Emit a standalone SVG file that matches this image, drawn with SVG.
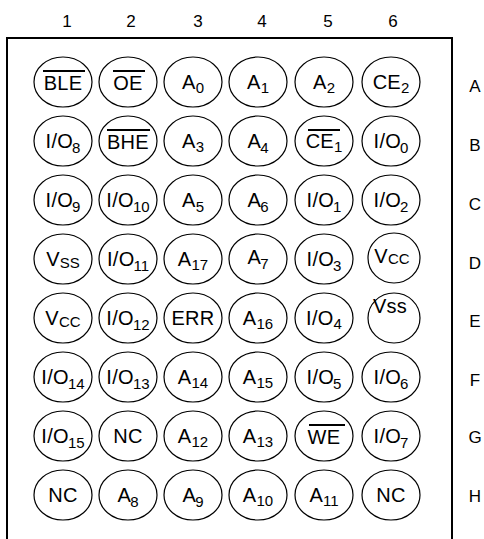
<svg xmlns="http://www.w3.org/2000/svg" width="484" height="539" viewBox="0 0 484 539">
<style>
.pin{fill:#fff;stroke:#000;stroke-width:1.2}
.t{font-family:"Liberation Sans",Arial,sans-serif;font-size:20px;text-anchor:middle;fill:#000;letter-spacing:0.3px}
.s{font-size:15px;letter-spacing:0}
.lbl{font-family:"Liberation Sans",Arial,sans-serif;font-size:17px;text-anchor:middle;fill:#000}
.ov{stroke:#000;stroke-width:2}
</style>
<rect x="0" y="0" width="484" height="539" fill="#fff"/>
<g id="labels">
<text class="lbl" x="67" y="27">1</text>
<text class="lbl" x="131" y="27">2</text>
<text class="lbl" x="198" y="27">3</text>
<text class="lbl" x="262" y="27">4</text>
<text class="lbl" x="328" y="27">5</text>
<text class="lbl" x="393" y="27">6</text>
<text class="lbl" x="475" y="92">A</text>
<text class="lbl" x="475" y="151">B</text>
<text class="lbl" x="475" y="210">C</text>
<text class="lbl" x="475" y="269">D</text>
<text class="lbl" x="475" y="327">E</text>
<text class="lbl" x="475" y="386">F</text>
<text class="lbl" x="475" y="443">G</text>
<text class="lbl" x="475" y="502">H</text>
</g>
<rect id="package" x="7" y="38" width="445" height="510" fill="none" stroke="#000" stroke-width="2"/>
<g id="connectors"></g>
<!-- Row A cy=82 -->
<g id="A1"><ellipse class="pin" cx="63" cy="82" rx="29" ry="25"/><text class="t" x="63" y="90">BLE</text><line class="ov" x1="43" y1="71" x2="85" y2="71"/></g>
<g id="A2"><ellipse class="pin" cx="128" cy="82" rx="29" ry="25"/><text class="t" x="128" y="90">OE</text><line class="ov" x1="113" y1="71" x2="145" y2="71"/></g>
<g id="A3"><ellipse class="pin" cx="193" cy="82" rx="29" ry="25"/><text class="t" x="193" y="89">A<tspan class="s" dy="4">0</tspan></text></g>
<g id="A4"><ellipse class="pin" cx="258" cy="82" rx="29" ry="25"/><text class="t" x="258" y="89">A<tspan class="s" dy="4">1</tspan></text></g>
<g id="A5"><ellipse class="pin" cx="324" cy="82" rx="29" ry="25"/><text class="t" x="324" y="89">A<tspan class="s" dy="4">2</tspan></text></g>
<g id="A6"><ellipse class="pin" cx="391" cy="82" rx="29" ry="25"/><text class="t" x="391" y="89">CE<tspan class="s" dy="4">2</tspan></text></g>
<!-- Row B cy=141 -->
<g id="B1"><ellipse class="pin" cx="63" cy="141" rx="29" ry="25"/><text class="t" x="63" y="148">I/O<tspan class="s" dx="-1" dy="5">8</tspan></text></g>
<g id="B2"><ellipse class="pin" cx="128" cy="141" rx="29" ry="25"/><text class="t" x="128" y="149">BHE</text><line class="ov" x1="107" y1="130" x2="150" y2="130"/></g>
<g id="B3"><ellipse class="pin" cx="193" cy="141" rx="29" ry="25"/><text class="t" x="193" y="148">A<tspan class="s" dy="4">3</tspan></text></g>
<g id="B4"><ellipse class="pin" cx="258" cy="141" rx="29" ry="25"/><text class="t" x="258" y="148">A<tspan class="s" dx="-1" dy="5">4</tspan></text></g>
<g id="B5"><ellipse class="pin" cx="324" cy="141" rx="29" ry="25"/><text class="t" x="324" y="148">CE<tspan class="s" dy="4">1</tspan></text><line class="ov" x1="308" y1="130" x2="340" y2="130"/></g>
<g id="B6"><ellipse class="pin" cx="391" cy="141" rx="29" ry="25"/><text class="t" x="391" y="148">I/O<tspan class="s" dx="-1" dy="5">0</tspan></text></g>
<!-- Row C cy=200 -->
<g id="C1"><ellipse class="pin" cx="63" cy="200" rx="29" ry="25"/><text class="t" x="63" y="207">I/O<tspan class="s" dx="-1" dy="5">9</tspan></text></g>
<g id="C2"><ellipse class="pin" cx="128" cy="200" rx="29" ry="25"/><text class="t" x="128" y="207">I/O<tspan class="s" dx="-1" dy="5">10</tspan></text></g>
<g id="C3"><ellipse class="pin" cx="193" cy="200" rx="29" ry="25"/><text class="t" x="193" y="207">A<tspan class="s" dy="5">5</tspan></text></g>
<g id="C4"><ellipse class="pin" cx="258" cy="200" rx="29" ry="25"/><text class="t" x="258" y="207">A<tspan class="s" dx="-1" dy="5">6</tspan></text></g>
<g id="C5"><ellipse class="pin" cx="324" cy="200" rx="29" ry="25"/><text class="t" x="324" y="207">I/O<tspan class="s" dx="-1" dy="5">1</tspan></text></g>
<g id="C6"><ellipse class="pin" cx="391" cy="200" rx="29" ry="25"/><text class="t" x="391" y="207">I/O<tspan class="s" dx="-1" dy="5">2</tspan></text></g>
<!-- Row D cy=259 -->
<g id="D1"><ellipse class="pin" cx="63" cy="259" rx="29" ry="25"/><text class="t" x="63" y="266">V<tspan class="s" dy="2">SS</tspan></text></g>
<g id="D2"><ellipse class="pin" cx="128" cy="259" rx="29" ry="25"/><text class="t" x="128" y="266">I/O<tspan class="s" dx="-1" dy="5">11</tspan></text></g>
<g id="D3"><ellipse class="pin" cx="193" cy="259" rx="29" ry="25"/><text class="t" x="193" y="266">A<tspan class="s" dy="4">17</tspan></text></g>
<g id="D4"><ellipse class="pin" cx="258" cy="259" rx="29" ry="25"/><text class="t" x="258" y="264">A<tspan class="s" dx="-1" dy="5">7</tspan></text></g>
<g id="D5"><ellipse class="pin" cx="324" cy="259" rx="29" ry="25"/><text class="t" x="324" y="266">I/O<tspan class="s" dx="-1" dy="5">3</tspan></text></g>
<g id="D6"><ellipse class="pin" cx="394" cy="258" rx="26" ry="25"/><text class="t" x="392" y="263">V<tspan class="s" dy="1">CC</tspan></text></g>
<!-- Row E cy=318 -->
<g id="E1"><ellipse class="pin" cx="63" cy="318" rx="29" ry="25"/><text class="t" x="63" y="325">V<tspan class="s" dy="2">CC</tspan></text></g>
<g id="E2"><ellipse class="pin" cx="128" cy="318" rx="29" ry="25"/><text class="t" x="128" y="325">I/O<tspan class="s" dx="-1" dy="5">12</tspan></text></g>
<g id="E3"><ellipse class="pin" cx="193" cy="318" rx="29" ry="25"/><text class="t" x="193" y="325">ERR</text></g>
<g id="E4"><ellipse class="pin" cx="258" cy="318" rx="29" ry="25"/><text class="t" x="258" y="325">A<tspan class="s" dy="4">16</tspan></text></g>
<g id="E5"><ellipse class="pin" cx="324" cy="318" rx="29" ry="25"/><text class="t" x="324" y="325">I/O<tspan class="s" dy="4">4</tspan></text></g>
<g id="E6"><ellipse class="pin" cx="394" cy="318" rx="26" ry="25"/><text class="t" x="390" y="313">Vss</text></g>
<!-- Row F cy=377 -->
<g id="F1"><ellipse class="pin" cx="63" cy="377" rx="29" ry="25"/><text class="t" x="63" y="384">I/O<tspan class="s" dx="-1" dy="5">14</tspan></text></g>
<g id="F2"><ellipse class="pin" cx="128" cy="377" rx="29" ry="25"/><text class="t" x="128" y="384">I/O<tspan class="s" dx="-1" dy="5">13</tspan></text></g>
<g id="F3"><ellipse class="pin" cx="193" cy="377" rx="29" ry="25"/><text class="t" x="193" y="384">A<tspan class="s" dy="4">14</tspan></text></g>
<g id="F4"><ellipse class="pin" cx="258" cy="377" rx="29" ry="25"/><text class="t" x="258" y="384">A<tspan class="s" dy="4">15</tspan></text></g>
<g id="F5"><ellipse class="pin" cx="324" cy="377" rx="29" ry="25"/><text class="t" x="324" y="384">I/O<tspan class="s" dx="-1" dy="5">5</tspan></text></g>
<g id="F6"><ellipse class="pin" cx="391" cy="377" rx="29" ry="25"/><text class="t" x="391" y="384">I/O<tspan class="s" dx="-1" dy="5">6</tspan></text></g>
<!-- Row G cy=436 -->
<g id="G1"><ellipse class="pin" cx="63" cy="436" rx="29" ry="25"/><text class="t" x="63" y="443">I/O<tspan class="s" dx="-1" dy="5">15</tspan></text></g>
<g id="G2"><ellipse class="pin" cx="128" cy="436" rx="29" ry="25"/><text class="t" x="128" y="443">NC</text></g>
<g id="G3"><ellipse class="pin" cx="193" cy="436" rx="29" ry="25"/><text class="t" x="193" y="443">A<tspan class="s" dy="4">12</tspan></text></g>
<g id="G4"><ellipse class="pin" cx="258" cy="436" rx="29" ry="25"/><text class="t" x="258" y="443">A<tspan class="s" dy="4">13</tspan></text></g>
<g id="G5"><ellipse class="pin" cx="324" cy="436" rx="29" ry="25"/><text class="t" x="324" y="444">WE</text><line class="ov" x1="309" y1="425" x2="345" y2="425"/></g>
<g id="G6"><ellipse class="pin" cx="391" cy="436" rx="29" ry="25"/><text class="t" x="391" y="443">I/O<tspan class="s" dx="-1" dy="5">7</tspan></text></g>
<!-- Row H cy=495 -->
<g id="H1"><ellipse class="pin" cx="63" cy="495" rx="29" ry="25"/><text class="t" x="63" y="502">NC</text></g>
<g id="H2"><ellipse class="pin" cx="128" cy="495" rx="29" ry="25"/><text class="t" x="128" y="502">A<tspan class="s" dx="-1" dy="5">8</tspan></text></g>
<g id="H3"><ellipse class="pin" cx="193" cy="495" rx="29" ry="25"/><text class="t" x="193" y="502">A<tspan class="s" dx="-1" dy="5">9</tspan></text></g>
<g id="H4"><ellipse class="pin" cx="258" cy="495" rx="29" ry="25"/><text class="t" x="258" y="502">A<tspan class="s" dy="4">10</tspan></text></g>
<g id="H5"><ellipse class="pin" cx="324" cy="495" rx="29" ry="25"/><text class="t" x="324" y="502">A<tspan class="s" dy="4">11</tspan></text></g>
<g id="H6"><ellipse class="pin" cx="391" cy="495" rx="29" ry="25"/><text class="t" x="391" y="502">NC</text></g>
</svg>
